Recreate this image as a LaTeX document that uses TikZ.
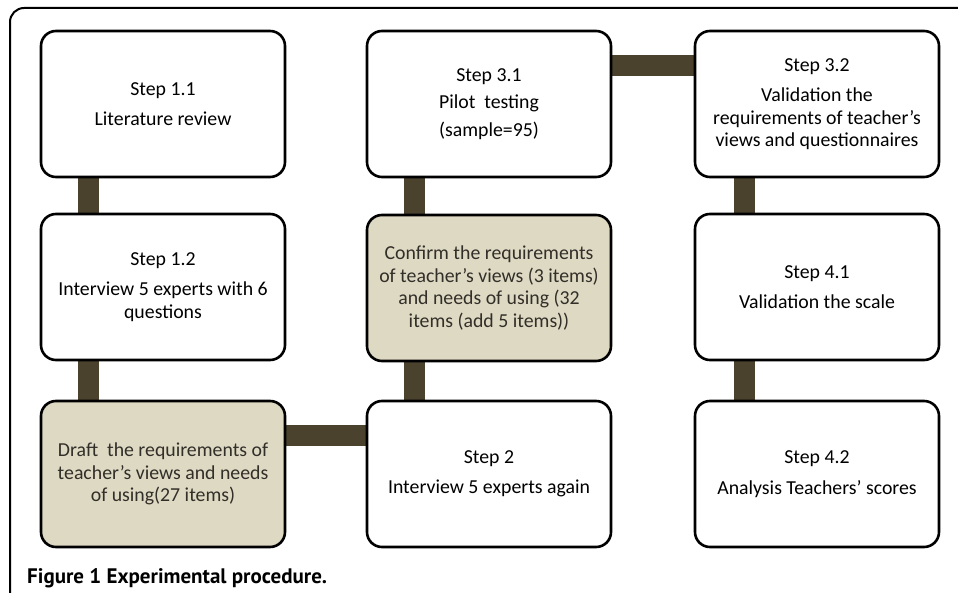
\documentclass[tikz,border=0pt]{standalone}
\usepackage{fontspec}
\setmainfont{Carlito}
\newfontfamily\capfont{PT Sans}
\usetikzlibrary{backgrounds}
\definecolor{connc}{RGB}{74,66,45}
\definecolor{tanc}{RGB}{221,217,195}
\definecolor{tantext}{RGB}{50,46,40}
\tikzset{
  stepbox/.style={draw=black, line width=2.6pt, rounded corners=15pt, fill=white,
    minimum width=244pt, minimum height=146pt, align=center, inner sep=2pt,
    font=\fontsize{19.8}{22.5}\selectfont},
  tanbox/.style={stepbox, fill=tanc, text=tantext},
  conn/.style={draw=connc, line width=21pt},
  frame/.style={draw=black, line width=2pt, rounded corners=14pt}
}
\begin{document}
\begin{tikzpicture}[x=1pt, y=-1pt]
\useasboundingbox (0,0) rectangle (958,593);
\draw[frame] (10,600) -- (10,8) -- (970,8);

\node[stepbox] (b11) at (163,104) {Step 1.1\\[8pt]Literature review};
\node[stepbox] (b12) at (163,287) {Step 1.2\\[8pt]Interview 5 experts with 6\\questions};
\node[tanbox]  (bd)  at (163,474) {Draft\ \ the requirements of\\teacher’s views and needs\\of using(27 items)};
\node[stepbox] (b31) at (489,104) {Step 3.1\\[5pt]Pilot\ \ testing\\[5pt](sample=95)};
\node[tanbox]  (bc)  at (489,288) {Confirm the requirements\\of teacher’s views (3 items)\\and needs of using (32\\items (add 5 items))};
\node[stepbox] (b2)  at (489,474) {Step 2\\[8pt]Interview 5 experts again};
\node[stepbox] (b32) at (817,104) {Step 3.2\\[8pt]Validation the\\requirements of teacher’s\\views and questionnaires};
\node[stepbox] (b41) at (817,287) {Step 4.1\\[8pt]Validation the scale};
\node[stepbox] (b42) at (817,474) {Step 4.2\\[8pt]Analysis Teachers’ scores};

\begin{scope}[on background layer]
\draw[conn] ([xshift=-75pt]b11.south) -- ([xshift=-75pt]b12.north);
\draw[conn] ([xshift=-75pt]b12.south) -- ([xshift=-75pt]bd.north);
\draw[conn] ([yshift=39pt]bd.east) -- ([yshift=39pt]b2.west);
\draw[conn] ([xshift=-75pt]b2.north) -- ([xshift=-75pt]bc.south);
\draw[conn] ([xshift=-75pt]bc.north) -- ([xshift=-75pt]b31.south);
\draw[conn] ([yshift=38pt]b31.east) -- ([yshift=38pt]b32.west);
\draw[conn] ([xshift=-73pt]b32.south) -- ([xshift=-73pt]b41.north);
\draw[conn] ([xshift=-73pt]b41.south) -- ([xshift=-73pt]b42.north);
\end{scope}

\node[anchor=base west, inner sep=0pt, font=\capfont\bfseries\fontsize{21}{25}\selectfont] (cap) at (27,583) {Figure 1 Experimental procedure.};
\end{tikzpicture}
\end{document}
